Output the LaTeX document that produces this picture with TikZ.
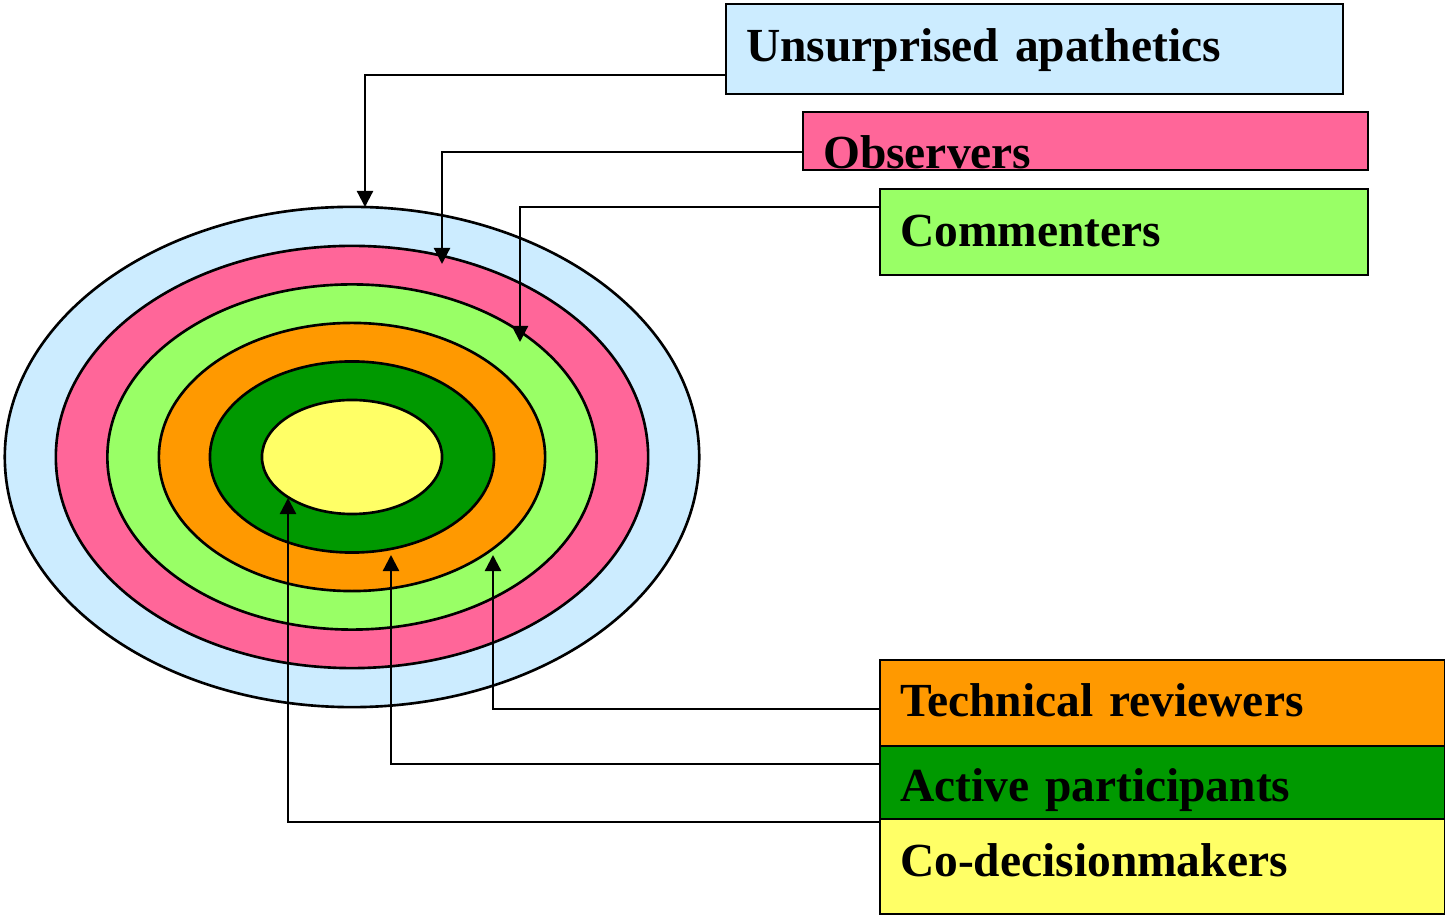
\documentclass[tikz,border=0pt]{standalone}
\usepackage{fontspec}
\setmainfont{Liberation Serif}
\usetikzlibrary{arrows.meta,shapes.geometric}
\definecolor{apathBlue}{HTML}{CCECFF}
\definecolor{obsPink}{HTML}{FF6699}
\definecolor{comGreen}{HTML}{99FF66}
\definecolor{techOrange}{HTML}{FF9900}
\definecolor{actGreen}{HTML}{009900}
\definecolor{coYellow}{HTML}{FFFF66}
\begin{document}
\begin{tikzpicture}[x=0.01cm,y=-0.01cm,
  ring/.style={ellipse, draw=black, line width=0.75pt, inner sep=0pt},
  labelbox/.style={draw=black, line width=0.6pt, anchor=north west,
    inner xsep=0.2cm, inner ysep=0pt, align=left,
    font=\fontsize{13.5pt}{16pt}\selectfont\bfseries,
    text height=0.32cm, text depth=0pt},
  link/.style={line width=0.65pt, -{Triangle[length=0.16cm,width=0.16cm]}}]
\useasboundingbox (0,0) rectangle (1445,916);

% concentric rings, outermost first
\node[ring, fill=apathBlue,  minimum width=6.94cm, minimum height=5.00cm] (r1) at (352,457) {};
\node[ring, fill=obsPink,    minimum width=5.92cm, minimum height=4.22cm] (r2) at (352,457) {};
\node[ring, fill=comGreen,   minimum width=4.89cm, minimum height=3.45cm] (r3) at (352,457) {};
\node[ring, fill=techOrange, minimum width=3.86cm, minimum height=2.68cm] (r4) at (352,457) {};
\node[ring, fill=actGreen,   minimum width=2.84cm, minimum height=1.91cm] (r5) at (352,457) {};
\node[ring, fill=coYellow,   minimum width=1.80cm, minimum height=1.14cm] (r6) at (352,457) {};

% arrow tips on the rings
\coordinate (tipA) at (365,207);
\coordinate (tipB) at (442,264);
\coordinate (tipC) at (520,342);
\coordinate (tipD) at (493,555);
\coordinate (tipE) at (391,555);
\coordinate (tipF) at (288,498);

% label boxes
\node[labelbox, fill=apathBlue, minimum width=6.17cm, minimum height=0.90cm,
      text width=5.77cm, text depth=0.08cm] (ua) at (725,3) {Unsurprised apathetics};
\node[labelbox, fill=obsPink, minimum width=5.65cm, minimum height=0.58cm,
      text width=5.25cm, text height=0.54cm] (obs) at (802,111) {Observers};
\node[labelbox, fill=comGreen, minimum width=4.88cm, minimum height=0.86cm,
      text width=4.48cm, text depth=0.04cm] (com) at (879,188) {Commenters};
\node[labelbox, fill=techOrange, minimum width=5.65cm, minimum height=0.86cm,
      text width=5.25cm, text depth=0.06cm] (tech) at (879,659) {Technical reviewers};
\node[labelbox, fill=actGreen, minimum width=5.65cm, minimum height=0.73cm,
      text width=5.25cm, text height=0.37cm] (act) at (879,745) {Active participants};
\node[labelbox, fill=coYellow, minimum width=5.65cm, minimum height=0.95cm,
      text width=5.25cm, text depth=0.13cm] (co) at (879,818) {Co-decisionmakers};

% connectors from the boxes to their rings
\draw[link] ([yshift=0.20cm]ua.south west)   -| (tipA);
\draw[link] ([yshift=0.19cm]obs.south west)  -| (tipB);
\draw[link] ([yshift=-0.19cm]com.north west) -| (tipC);
\draw[link] ([yshift=0.38cm]tech.south west) -| (tipD);
\draw[link] ([yshift=-0.19cm]act.north west) -| (tipE);
\draw[link] ([yshift=-0.04cm]co.north west)  -| (tipF);
\end{tikzpicture}
\end{document}
